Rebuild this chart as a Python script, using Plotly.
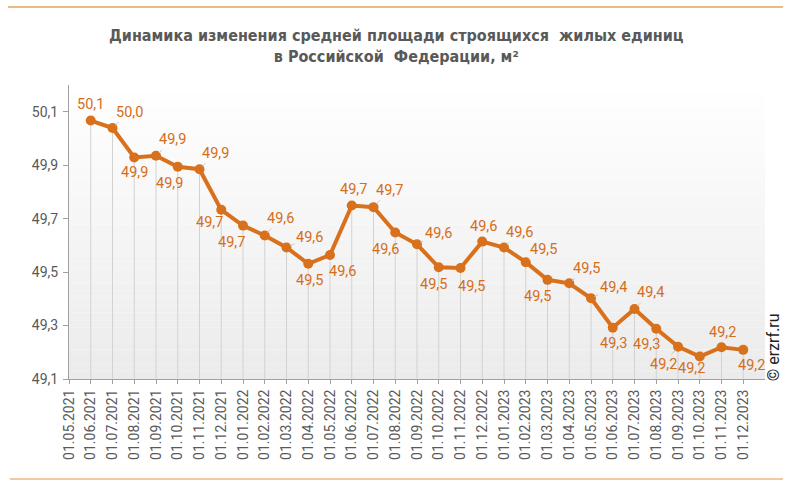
import plotly.graph_objects as go

# ---- data ----
dates = ["01.05.2021", "01.06.2021", "01.07.2021", "01.08.2021", "01.09.2021", "01.10.2021",
         "01.11.2021", "01.12.2021", "01.01.2022", "01.02.2022", "01.03.2022", "01.04.2022",
         "01.05.2022", "01.06.2022", "01.07.2022", "01.08.2022", "01.09.2022", "01.10.2022",
         "01.11.2022", "01.12.2022", "01.01.2023", "01.02.2023", "01.03.2023", "01.04.2023",
         "01.05.2023", "01.06.2023", "01.07.2023", "01.08.2023", "01.09.2023", "01.10.2023",
         "01.11.2023", "01.12.2023"]
# values start at 01.06.2021
values = [50.067, 50.039, 49.929, 49.935, 49.894, 49.885, 49.733, 49.674, 49.637, 49.592,
          49.531, 49.564, 49.749, 49.743, 49.648, 49.604, 49.518, 49.515, 49.614, 49.592,
          49.537, 49.471, 49.458, 49.402, 49.292, 49.362, 49.288, 49.221, 49.184, 49.219,
          49.209]
y_ticks = [49.1, 49.3, 49.5, 49.7, 49.9, 50.1]
y_tick_labels = ["49,1", "49,3", "49,5", "49,7", "49,9", "50,1"]

# ---- label placement (style) ----
label_offsets = [(0, -16), (17, -16), (0, 15), (16, -16), (-8, 17), (16, -16), (-12, 13),
                 (-12, 17), (16, -17), (23, -10), (1, 17), (12, 17), (2, -16), (16, -17),
                 (-10, 17), (21, -11), (-5, 17), (11, 18), (1, -15), (15, -15), (18, -13),
                 (-10, 17), (17, -15), (22, -11), (1, 16), (16, -16), (-10, 16), (-15, 18),
                 (-8, 12), (1, -15), (8, 16)]
leaders = [False, True, False, True, False, True, False, False, True, True, False, False,
           False, True, False, True, False, False, False, True, True, False, True, True,
           False, True, False, True, False, False, False]

ORANGE = "#d8701c"
LABEL = "#d46e1a"
GREY_TXT = "#595959"
BASE = 49.1

x_pts = dates[1:]

fig = go.Figure()

# drop lines from each point to the axis
fig.add_trace(go.Scatter(
    x=x_pts, y=values, mode="markers",
    marker=dict(size=1, color="rgba(0,0,0,0)"),
    error_y=dict(type="data", symmetric=False, array=[0] * len(values),
                 arrayminus=[v - BASE for v in values], width=0, thickness=1,
                 color="#d2d2d2"),
    hoverinfo="skip", showlegend=False))

fig.add_trace(go.Scatter(
    x=x_pts, y=values, mode="lines+markers",
    line=dict(color=ORANGE, width=4),
    marker=dict(size=10, color=ORANGE),
    showlegend=False))

annotations = []
for xv, v, (dx, dy), ld in zip(x_pts, values, label_offsets, leaders):
    annotations.append(dict(
        x=xv, y=v, xref="x", yref="y", text=f"{v:.1f}".replace(".", ","),
        showarrow=True, ax=dx, ay=dy, arrowhead=0, arrowwidth=1,
        arrowcolor="#c8c8c8" if ld else "rgba(0,0,0,0)", standoff=4,
        font=dict(family="Roboto", size=14.5, color=LABEL)))

# title
annotations.append(dict(
    x=0.47, y=1.133, xref="paper", yref="paper", xanchor="center", yanchor="middle",
    text="Динамика изменения средней площади строящихся  жилых единиц<br>в Российской  Федерации, м²",
    showarrow=False, align="center",
    font=dict(family="Liberation Sans Narrow, DejaVu Sans Condensed, Arial", size=16,
              color=GREY_TXT, weight="bold")))
# copyright
annotations.append(dict(
    x=1.0135, y=0.109, xref="paper", yref="paper", xanchor="center", yanchor="middle",
    text="© erzrf.ru", textangle=-90, showarrow=False,
    font=dict(family="Roboto", size=16, color="#222222")))

# background gradient bands
shapes = []
n_bands = 40
for i in range(n_bands):
    t = i / (n_bands - 1)
    c = int(round(255 - t * 20))
    shapes.append(dict(type="rect", xref="x domain", yref="y domain",
                       x0=0, x1=1, y0=1 - (i + 1) / n_bands, y1=1 - i / n_bands,
                       fillcolor=f"rgb({c},{c},{c})", line=dict(width=0), layer="below"))
# decorative header / footer rules
shapes.append(dict(type="line", xref="paper", yref="paper", x0=-0.0876, x1=1.026,
                   y0=1.265, y1=1.265, line=dict(color="#e8a261", width=1.5)))
shapes.append(dict(type="line", xref="paper", yref="paper", x0=-0.085, x1=1.026,
                   y0=-0.340, y1=-0.340, line=dict(color="#f2c8a0", width=2)))

fig.update_layout(
    width=800, height=486,
    margin=dict(l=69, r=35, t=85, b=107),
    paper_bgcolor="white", plot_bgcolor="white",
    annotations=annotations, shapes=shapes,
    xaxis=dict(type="category", categoryorder="array", categoryarray=dates,
               range=[0, 32], tickmode="array", tickvals=dates, ticktext=dates,
               tickangle=-90, ticks="outside", ticklen=4, tickcolor="#a0a0a0",
               showgrid=False, zeroline=False, showline=True, linecolor="#a0a0a0",
               linewidth=1, automargin=False,
               tickfont=dict(family="Roboto", size=14, color=GREY_TXT)),
    yaxis=dict(range=[BASE, 50.2], tickmode="array", tickvals=y_ticks,
               ticktext=y_tick_labels, ticks="outside", ticklen=5, tickcolor="#a0a0a0",
               showgrid=False, zeroline=False, showline=True, linecolor="#a0a0a0",
               linewidth=1, automargin=False, ticklabelstandoff=2,
               tickfont=dict(family="Roboto", size=14, color=GREY_TXT)),
)

fig.write_html("out.html", config={"displayModeBar": False},
               post_script="document.body.style.margin='0';document.body.style.padding='0';")
